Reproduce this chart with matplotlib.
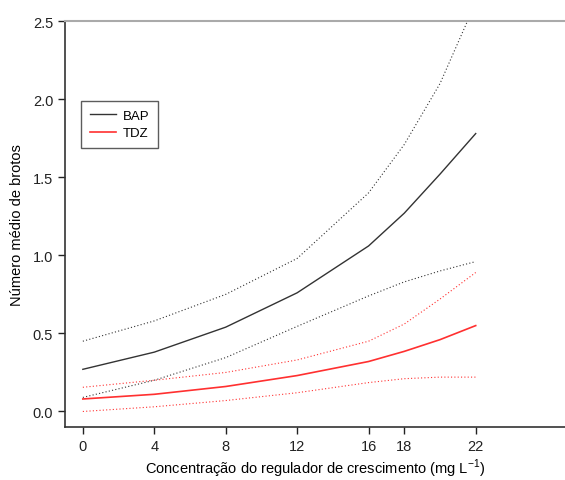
import matplotlib
matplotlib.use("Agg")
import matplotlib.pyplot as plt

plt.rcParams['font.family'] = ['Liberation Sans', 'DejaVu Sans']

conc = [0, 4, 8, 12, 16, 18, 20, 22]
xticks = [0, 4, 8, 12, 16, 18, 22]

bap_mean = [0.27, 0.38, 0.54, 0.76, 1.06, 1.27, 1.52, 1.78]
bap_upper = [0.45, 0.58, 0.75, 0.98, 1.40, 1.71, 2.10, 2.62]
bap_lower = [0.09, 0.20, 0.345, 0.545, 0.74, 0.83, 0.90, 0.96]

tdz_mean = [0.08, 0.11, 0.16, 0.23, 0.32, 0.385, 0.46, 0.55]
tdz_upper = [0.155, 0.20, 0.25, 0.33, 0.45, 0.56, 0.72, 0.89]
tdz_lower = [0.0, 0.03, 0.07, 0.12, 0.185, 0.21, 0.22, 0.22]

bap_color = '#333333'
tdz_color = '#ff3030'

fig = plt.figure(figsize=(5.65, 4.81), dpi=100)
ax = fig.add_axes([0.115, 0.110, 0.885, 0.844])

ax.plot(conc, bap_mean, color=bap_color, lw=1.0, label='BAP')
ax.plot(conc, tdz_mean, color=tdz_color, lw=1.2, label='TDZ')
for ci in (bap_upper, bap_lower):
    ax.plot(conc, ci, color=bap_color, lw=0.8, ls=(0, (1, 2)))
for ci in (tdz_upper, tdz_lower):
    ax.plot(conc, ci, color=tdz_color, lw=0.8, ls=(0, (1, 2)))

ax.set_xlim(-1, 27)
ax.set_ylim(-0.1, 2.5)
ax.set_xticks(xticks)
ax.set_yticks([0.0, 0.5, 1.0, 1.5, 2.0, 2.5])
ax.set_yticklabels(['0.0', '0.5', '1.0', '1.5', '2.0', '2.5'])
ax.tick_params(axis='both', direction='out', length=5, width=1, labelsize=10.5, colors='#222222')

ax.spines['right'].set_visible(False)
ax.spines['top'].set_color('#aaaaaa')
ax.spines['top'].set_linewidth(1.5)
ax.spines['left'].set_color('#333333')
ax.spines['bottom'].set_color('#333333')
ax.spines['left'].set_linewidth(1.2)
ax.spines['bottom'].set_linewidth(1.2)

ax.set_xlabel('Concentração do regulador de crescimento (mg L$^{\\mathregular{-1}}$)',
              fontsize=10.5, labelpad=3)
ax.set_ylabel('Número médio de brotos', fontsize=10.5, labelpad=6)

leg = ax.legend(loc='upper left', bbox_to_anchor=(0.032, 0.803), borderaxespad=0,
                fontsize=9.5, frameon=True, fancybox=False, handlelength=2.0,
                borderpad=0.65, labelspacing=0.4, handletextpad=0.5)
leg.get_frame().set_edgecolor('#333333')
leg.get_frame().set_linewidth(1.0)

fig.savefig('out.png', dpi=100)
